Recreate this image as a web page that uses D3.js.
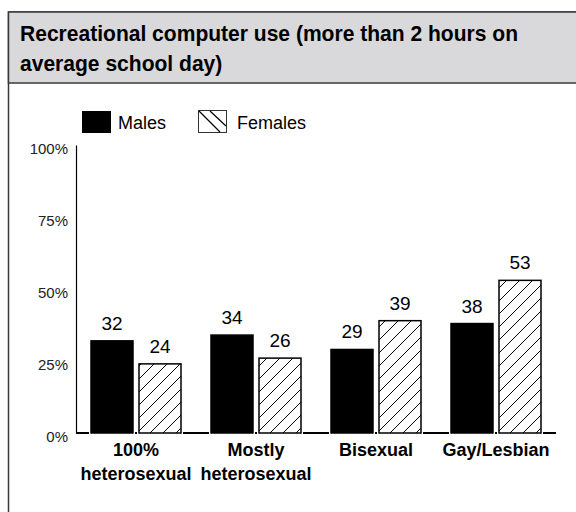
<!DOCTYPE html>
<html>
<head>
<meta charset="utf-8">
<script src="https://cdnjs.cloudflare.com/ajax/libs/d3/7.8.5/d3.min.js"></script>
<style>
    html, body { margin: 0; padding: 0; background: #fff; }
    svg { display: block; }
</style>
</head>
<body>
<div id="chart"></div>
<script>
(function (d3) {
    "use strict";

    // 数据
    var titleLines = ["Recreational computer use (more than 2 hours on", "average school day)"];
    var categories = [["100%", "heterosexual"], ["Mostly", "heterosexual"], ["Bisexual"], ["Gay/Lesbian"]];
    var seriesNames = ["Males", "Females"];
    var males = [32, 34, 29, 38];
    var females = [24, 26, 39, 53];
    var yTicks = [0, 25, 50, 75, 100];

    var W = 576, H = 512;
    var sans = "'Liberation Sans', Arial, sans-serif";

    var svg = d3.select("#chart").append("svg").attr("width", W).attr("height", H);

    // 斜线填充
    var defs = svg.append("defs");
    var hatch = defs.append("pattern").attr("id", "hatch")
        .attr("patternUnits", "userSpaceOnUse").attr("width", 13).attr("height", 13);
    hatch.append("rect").attr("width", 13).attr("height", 13).attr("fill", "#fff");
    hatch.append("path").attr("d", "M-2,15 L15,-2 M-2,2 L2,-2 M11,15 L15,11")
        .attr("stroke", "#000").attr("stroke-width", 1);

    // 外框 + 标题栏
    svg.append("rect").attr("x", 8.5).attr("y", 12).attr("width", W).attr("height", H)
        .attr("fill", "#fff").attr("stroke", "#3a3a3a").attr("stroke-width", 1.5);
    svg.append("rect").attr("x", 8.5).attr("y", 12).attr("width", W).attr("height", 71)
        .attr("fill", "#d9d9db").attr("stroke", "#3a3a3a").attr("stroke-width", 1.5);
    var title = svg.append("g").selectAll("text").data(titleLines).enter().append("text")
        .attr("x", 20).attr("y", function (d, i) { return 41 + i * 30; })
        .style("font-family", sans).style("font-weight", "bold").style("font-size", "22px")
        .attr("fill", "#000").text(function (d) { return d; });
    // 压缩字宽，模仿窄体
    var k = 498 / title.nodes()[0].getComputedTextLength();
    title.each(function () {
        d3.select(this).attr("textLength", this.getComputedTextLength() * k)
            .attr("lengthAdjust", "spacingAndGlyphs");
    });

    // 比例尺
    var x0 = d3.scaleBand().domain(d3.range(categories.length)).range([76, 556]);
    var x1 = d3.scaleBand().domain(seriesNames).range([15, 105]).paddingInner(0.125);
    var y = d3.scaleLinear().domain([0, 100]).range([433, 145]);

    // y轴
    var yAxis = svg.append("g").attr("transform", "translate(76,0)")
        .call(d3.axisLeft(y).tickValues(yTicks).tickSize(0).tickPadding(8)
            .tickFormat(function (d) { return d + "%"; }));
    yAxis.select(".domain").attr("stroke", "#000").attr("stroke-width", 1.2);
    yAxis.selectAll("text").attr("dy", "0.55em")
        .style("font-family", sans).style("font-size", "15px")
        .attr("fill", "#222");

    // 基线
    svg.append("line").attr("x1", 76).attr("x2", 556).attr("y1", y(0)).attr("y2", y(0))
        .attr("stroke", "#000").attr("stroke-width", 2);

    var data = categories.map(function (c, i) {
        return { i: i, values: [{ key: "Males", v: males[i] }, { key: "Females", v: females[i] }] };
    });

    var groups = svg.append("g").selectAll("g").data(data).enter().append("g")
        .attr("transform", function (d) { return "translate(" + x0(d.i) + ",0)"; });

    // 白色描边底（打断基线）
    groups.selectAll("rect.halo").data(function (d) { return d.values; }).enter().append("rect")
        .attr("class", "halo")
        .attr("x", function (d) { return x1(d.key) - 2; })
        .attr("y", function (d) { return y(d.v) - 2; })
        .attr("width", x1.bandwidth() + 4)
        .attr("height", function (d) { return y(0) - y(d.v) + 4; })
        .attr("fill", "#fff");

    groups.selectAll("rect.bar").data(function (d) { return d.values; }).enter().append("rect")
        .attr("class", "bar")
        .attr("x", function (d) { return x1(d.key); })
        .attr("y", function (d) { return y(d.v); })
        .attr("width", x1.bandwidth())
        .attr("height", function (d) { return y(0) - y(d.v); })
        .attr("fill", function (d) { return d.key === "Males" ? "#000" : "url(#hatch)"; })
        .attr("stroke", "#000")
        .attr("stroke-width", 1.5);

    // 数值标签
    groups.selectAll("text.val").data(function (d) { return d.values; }).enter().append("text")
        .attr("class", "val")
        .attr("x", function (d) { return x1(d.key) + x1.bandwidth() / 2; })
        .attr("y", function (d) { return y(d.v) - 11; })
        .attr("text-anchor", "middle")
        .style("font-family", sans).style("font-size", "19px").attr("fill", "#000")
        .text(function (d) { return d.v; });

    // 分类标签
    groups.append("text").attr("text-anchor", "middle")
        .style("font-family", sans).style("font-weight", "bold").style("font-size", "18px")
        .selectAll("tspan").data(function (d) { return categories[d.i]; }).enter().append("tspan")
        .attr("x", x0.bandwidth() / 2)
        .attr("y", function (d, i) { return 456 + i * 24; })
        .text(function (d) { return d; });

    // 图例
    var legend = svg.append("g");
    legend.append("rect").attr("x", 82).attr("y", 111).attr("width", 29).attr("height", 22)
        .attr("fill", "#000");
    legend.append("text").attr("x", 118).attr("y", 129)
        .style("font-family", sans).style("font-size", "18px").text(seriesNames[0]);
    legend.append("rect").attr("x", 198.5).attr("y", 110.5).attr("width", 28).attr("height", 22)
        .attr("fill", "#fff").attr("stroke", "#333").attr("stroke-width", 1);
    legend.append("path").attr("d", "M199,111 L220,132 M210,111 L226,126")
        .attr("stroke", "#000").attr("stroke-width", 1.2);
    legend.append("text").attr("x", 237).attr("y", 129)
        .style("font-family", sans).style("font-size", "18px").text(seriesNames[1]);

})(d3);
</script>
</body>
</html>
